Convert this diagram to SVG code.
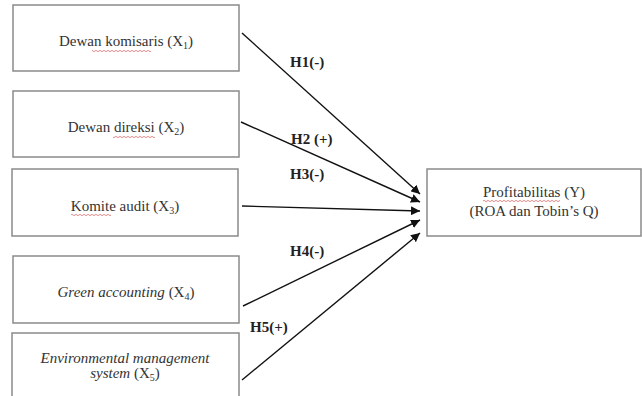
<svg xmlns="http://www.w3.org/2000/svg" width="642" height="396" viewBox="0 0 642 396" font-family="Liberation Serif">
<defs>
<style>
.box{fill:#fff;stroke:#8a8a8a;stroke-width:1.5}
.t{font-size:15px;fill:#333;text-anchor:middle}
.it{font-style:italic}
.lbl{font-size:15px;font-weight:bold;fill:#222}
.c{stroke:#111;stroke-width:1.4;fill:none;marker-end:url(#ah)}
</style>
<pattern id="sq" x="0" y="0" width="4" height="2" patternUnits="userSpaceOnUse">
<path d="M0,0.3 L2,1.7 L4,0.3" stroke="#e07070" stroke-width="0.8" fill="none"/>
</pattern>
<marker id="ah" viewBox="0 0 10 10" refX="10" refY="5" markerWidth="9" markerHeight="9" markerUnits="userSpaceOnUse" orient="auto">
<path d="M0,0 L10,5 L0,10 z" fill="#111"/>
</marker>
</defs>
<rect width="642" height="396" fill="#fff"/>
<g id="x1">
<rect class="box" x="13" y="5" width="226" height="66"/>
<text class="t" x="126" y="46" font-family="Liberation Serif">Dewan komisaris (X<tspan font-size="10" dy="3">1</tspan><tspan dy="-3">)</tspan></text>
<rect x="92" y="50" width="59" height="2" fill="url(#sq)"/>
</g>
<g id="x2">
<rect class="box" x="13" y="91" width="226" height="66"/>
<text class="t" x="126" y="132" font-family="Liberation Serif">Dewan direksi (X<tspan font-size="10" dy="3">2</tspan><tspan dy="-3">)</tspan></text>
<rect x="113" y="136" width="42" height="2" fill="url(#sq)"/>
</g>
<g id="x3">
<rect class="box" x="12" y="169" width="226" height="67"/>
<text class="t" x="125" y="211" font-family="Liberation Serif">Komite audit (X<tspan font-size="10" dy="3">3</tspan><tspan dy="-3">)</tspan></text>
<rect x="71" y="214" width="40" height="2" fill="url(#sq)"/>
</g>
<g id="x4">
<rect class="box" x="13" y="256" width="226" height="67"/>
<text class="t" x="126" y="297" font-family="Liberation Serif"><tspan class="it">Green accounting</tspan> (X<tspan font-size="10" dy="3">4</tspan><tspan dy="-3">)</tspan></text>
</g>
<g id="x5">
<rect class="box" x="12" y="333" width="227" height="70"/>
<text class="t it" x="125" y="363" font-family="Liberation Serif">Environmental management</text>
<text class="t" x="125" y="378" font-family="Liberation Serif"><tspan class="it">system</tspan> (X<tspan font-size="10" dy="3">5</tspan><tspan dy="-3">)</tspan></text>
</g>
<g id="y">
<rect class="box" x="427" y="169" width="214" height="67"/>
<text class="t" x="534" y="197" font-family="Liberation Serif">Profitabilitas (Y)</text>
<text class="t" x="534" y="216" font-family="Liberation Serif">(ROA dan Tobin’s Q)</text>
<rect x="483" y="200" width="77" height="2" fill="url(#sq)"/>
</g>
<g id="connectors">
<line class="c" x1="242" y1="33" x2="420" y2="194"/>
<line class="c" x1="241" y1="122" x2="420" y2="202"/>
<line class="c" x1="242" y1="206" x2="420" y2="211"/>
<line class="c" x1="243" y1="306" x2="420" y2="220"/>
<line class="c" x1="242" y1="380" x2="420" y2="233"/>
<text class="lbl" x="290" y="67" font-family="Liberation Serif">H1(-)</text>
<text class="lbl" x="291" y="144" font-family="Liberation Serif">H2 (+)</text>
<text class="lbl" x="290" y="179" font-family="Liberation Serif">H3(-)</text>
<text class="lbl" x="290" y="256" font-family="Liberation Serif">H4(-)</text>
<text class="lbl" x="250" y="332" font-family="Liberation Serif">H5(+)</text>
</g>
</svg>
